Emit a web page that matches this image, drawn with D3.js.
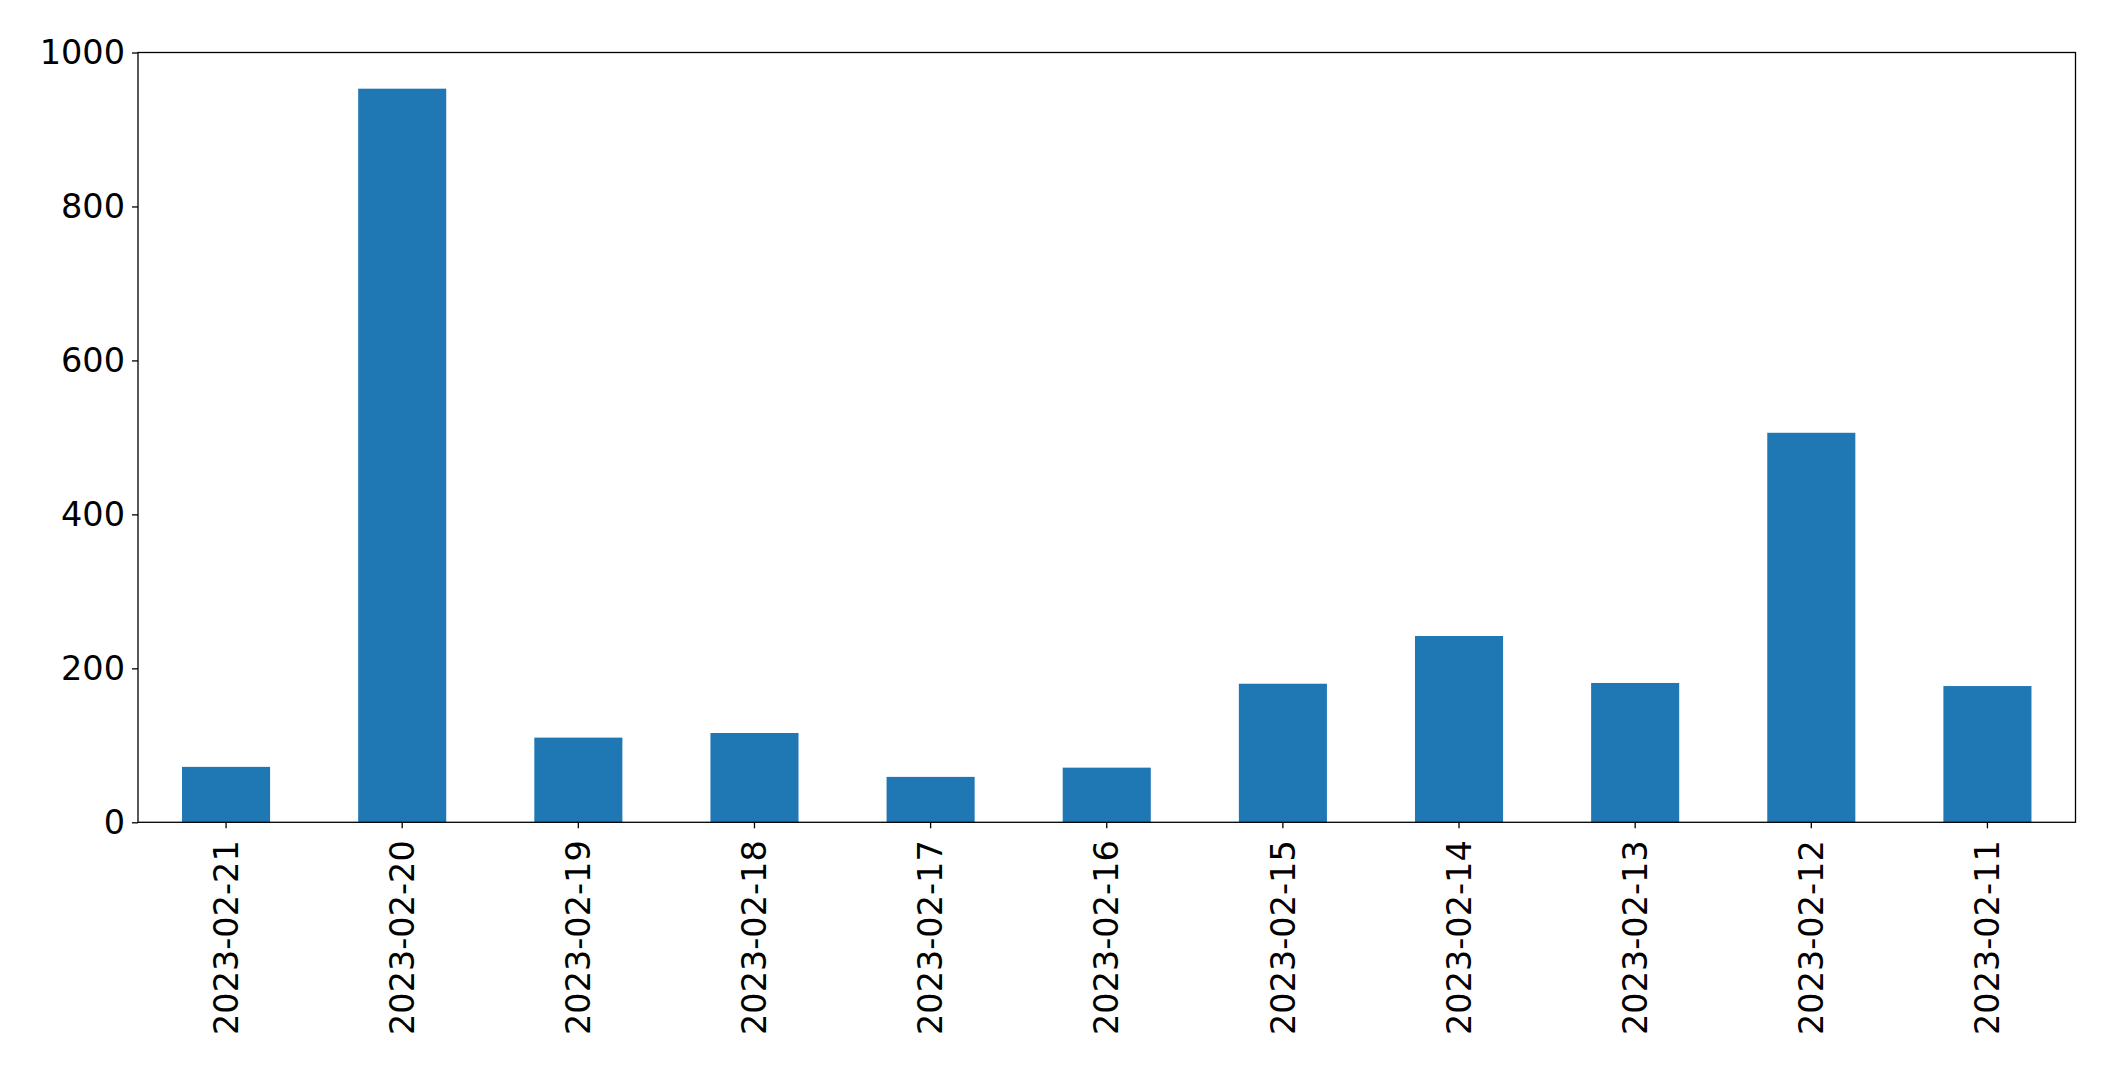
<!DOCTYPE html>
<html>
<head>
<meta charset="utf-8">
<script src="https://cdn.jsdelivr.net/npm/d3@7"></script>
<style>
  html, body { margin: 0; padding: 0; background: #fff; }
  svg { display: block; }
</style>
</head>
<body>
<svg id="chart" width="2115" height="1074"></svg>
<script>
const categories = ["2023-02-21","2023-02-20","2023-02-19","2023-02-18","2023-02-17","2023-02-16","2023-02-15","2023-02-14","2023-02-13","2023-02-12","2023-02-11"];
const values = [72, 953, 110, 116, 59, 71, 180, 242, 181, 506, 177];
const yTicks = [0, 200, 400, 600, 800, 1000];

const margin = {left: 138, right: 2115 - 2075.5, top: 52.5, bottom: 1074 - 822.3};
const W = 2115, H = 1074;
const svg = d3.select("#chart");
const innerW = W - margin.left - margin.right;
const innerH = H - margin.top - margin.bottom;
const g = svg.append("g").attr("transform", `translate(${margin.left},${margin.top})`);

const x = d3.scaleBand().domain(categories).range([0, innerW]).paddingInner(0.5).paddingOuter(0.25);
const y = d3.scaleLinear().domain([0, 1000]).range([innerH, 0]);

g.selectAll("rect.bar").data(values).enter().append("rect")
  .attr("class", "bar")
  .attr("x", (d, i) => x(categories[i]))
  .attr("y", d => y(d))
  .attr("width", x.bandwidth())
  .attr("height", d => innerH - y(d))
  .attr("fill", "#1f77b4");

const font = "'DejaVu Sans', sans-serif";
const fs = 33.5;

const yAxis = g.append("g").call(d3.axisLeft(y).tickValues(yTicks).tickFormat(d3.format("d")).tickSize(6).tickPadding(7));
yAxis.select(".domain").remove();
yAxis.selectAll("text").attr("font-family", font).attr("font-size", fs).attr("fill", "#000");
yAxis.selectAll("line").attr("stroke", "#000").attr("stroke-width", 1.3);

const xAxis = g.append("g").attr("transform", `translate(0,${innerH})`)
  .call(d3.axisBottom(x).tickSize(6).tickPadding(0));
xAxis.select(".domain").remove();
xAxis.selectAll("line").attr("stroke", "#000").attr("stroke-width", 1.3);
xAxis.selectAll("text")
  .attr("font-family", font).attr("font-size", fs).attr("fill", "#000")
  .attr("transform", "rotate(-90)")
  .attr("text-anchor", "end")
  .attr("x", -18)
  .attr("y", 0)
  .attr("dy", "0.35em");

g.append("rect").attr("x", 0).attr("y", 0).attr("width", innerW).attr("height", innerH)
  .attr("fill", "none").attr("stroke", "#000").attr("stroke-width", 1.3);
</script>
</body>
</html>
